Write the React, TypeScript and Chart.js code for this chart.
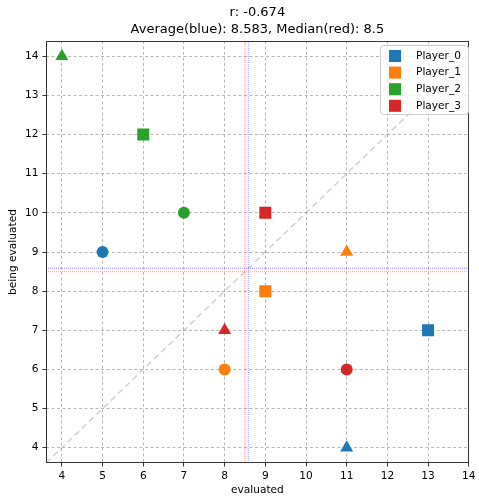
import React, { useEffect, useRef } from "react";
import { Chart, registerables } from "chart.js";

Chart.register(...registerables);

const PLAYERS = ["Player_0", "Player_1", "Player_2", "Player_3"];
const COLORS = ["#1f77b4", "#ff7f0e", "#2ca02c", "#d62728"];
const MARKERS = ["circle", "rect", "triangle"];
const MARKER_RADII = [6, 8.5, 7.5];
// evaluated (x) and being evaluated (y) for each player, in marker order
const EVALUATED = [
  [5, 13, 11],
  [8, 9, 11],
  [7, 6, 4],
  [11, 9, 8],
];
const BEING_EVALUATED = [
  [9, 7, 4],
  [6, 8, 9],
  [10, 12, 14],
  [6, 10, 7],
];
const AVERAGE = 8.583;
const MEDIAN = 8.5;
const R_VALUE = -0.674;
const TITLE_LINES = [
  `r: ${R_VALUE}`,
  `Average(blue): ${AVERAGE}, Median(red): ${MEDIAN}`,
];
const X_TICKS = [4, 5, 6, 7, 8, 9, 10, 11, 12, 13, 14];
const Y_TICKS = [4, 5, 6, 7, 8, 9, 10, 11, 12, 13, 14];
const X_MIN = 3.61;
const X_MAX = 14;
const Y_MIN = 3.61;
const Y_MAX = 14.39;

const FONT = "'DejaVu Sans', sans-serif";
const LABEL_SIZE = 10.6;

const framePlugin = {
  id: "frameAndLegend",
  afterDraw(chart: any) {
    const { ctx, chartArea } = chart;
    ctx.save();
    // title centred over the plot area
    ctx.font = `13px ${FONT}`;
    ctx.fillStyle = "#000";
    ctx.textAlign = "center";
    ctx.textBaseline = "middle";
    const cx = (chartArea.left + chartArea.right) / 2;
    TITLE_LINES.forEach((t, i) => ctx.fillText(t, cx, 13 + i * 16.5));

    ctx.strokeStyle = "#333";
    ctx.lineWidth = 1;
    ctx.setLineDash([]);
    ctx.strokeRect(
      Math.round(chartArea.left) + 0.5,
      Math.round(chartArea.top) + 0.5,
      Math.round(chartArea.right - chartArea.left) - 1,
      Math.round(chartArea.bottom - chartArea.top) - 1
    );
    // legend
    const bx = 380.5, by = 45.5, bw = 88, bh = 69, r = 3;
    ctx.beginPath();
    ctx.moveTo(bx + r, by);
    ctx.lineTo(bx + bw - r, by);
    ctx.arcTo(bx + bw, by, bx + bw, by + r, r);
    ctx.lineTo(bx + bw, by + bh - r);
    ctx.arcTo(bx + bw, by + bh, bx + bw - r, by + bh, r);
    ctx.lineTo(bx + r, by + bh);
    ctx.arcTo(bx, by + bh, bx, by + bh - r, r);
    ctx.lineTo(bx, by + r);
    ctx.arcTo(bx, by, bx + r, by, r);
    ctx.closePath();
    ctx.fillStyle = "rgba(255,255,255,0.8)";
    ctx.fill();
    ctx.strokeStyle = "#cccccc";
    ctx.stroke();
    ctx.font = `${LABEL_SIZE}px ${FONT}`;
    ctx.textBaseline = "middle";
    ctx.textAlign = "left";
    PLAYERS.forEach((p, i) => {
      const cy = 56 + i * 16.6;
      ctx.fillStyle = COLORS[i];
      ctx.fillRect(389, cy - 6, 12, 12);
      ctx.fillStyle = "#000";
      ctx.fillText(p, 416, cy);
    });
    ctx.restore();
  },
};

export default function App() {
  const ref = useRef<HTMLCanvasElement>(null);
  useEffect(() => {
    document.body.style.margin = "0";
    Chart.defaults.font.family = FONT;
    Chart.defaults.color = "#000";
    const datasets: any[] = PLAYERS.map((p, i) => ({
      label: p,
      data: EVALUATED[i].map((x, j) => ({ x, y: BEING_EVALUATED[i][j] })),
      backgroundColor: COLORS[i],
      borderColor: COLORS[i],
      borderWidth: 0,
      pointStyle: MARKERS,
      pointRadius: MARKER_RADII,
      pointHoverRadius: MARKER_RADII,
      order: 1,
    }));
    datasets.push({
      label: "diag",
      data: [
        { x: X_MIN, y: X_MIN },
        { x: Y_MAX, y: Y_MAX },
      ],
      showLine: true,
      borderColor: "rgba(150,150,150,0.45)",
      borderWidth: 1.5,
      borderDash: [6, 4],
      pointRadius: 0,
      order: 2,
    });
    const lines = [
      { v: AVERAGE, c: "rgba(60,60,255,0.4)" },
      { v: MEDIAN, c: "rgba(255,60,60,0.4)" },
    ];
    lines.forEach((l) => {
      datasets.push({
        label: "v",
        data: [
          { x: l.v, y: Y_MIN },
          { x: l.v, y: Y_MAX },
        ],
        showLine: true,
        borderColor: l.c,
        borderWidth: 1.5,
        borderDash: [1, 1],
        pointRadius: 0,
        order: 0,
      });
      datasets.push({
        label: "h",
        data: [
          { x: X_MIN, y: l.v },
          { x: X_MAX, y: l.v },
        ],
        showLine: true,
        borderColor: l.c,
        borderWidth: 1.5,
        borderDash: [1, 1],
        pointRadius: 0,
        order: 0,
      });
    });

    const gridCommon = {
      color: "rgba(160,160,160,0.75)",
      lineWidth: 1,
      tickLength: 3.5,
      tickColor: "#333",
      tickWidth: 1,
      tickBorderDash: [],
    };
    const borderCommon = { display: false, dash: [3, 2.5] };

    const chart = new Chart(ref.current!, {
      type: "scatter",
      data: { datasets },
      plugins: [framePlugin],
      options: {
        animation: false,
        responsive: false,
        devicePixelRatio: 1,
        layout: { padding: { left: 0, right: 8, top: 41, bottom: 0 } },
        plugins: {
          legend: { display: false },
          tooltip: { enabled: false },
          title: { display: false },
        },
        scales: {
          x: {
            type: "linear",
            min: X_MIN,
            max: X_MAX,
            z: 1,
            border: borderCommon as any,
            grid: gridCommon as any,
            afterBuildTicks: (s: any) => {
              s.ticks = X_TICKS.map((v) => ({ value: v }));
            },
            afterFit: (s: any) => {
              s.height = 34;
            },
            ticks: {
              font: { size: LABEL_SIZE, family: FONT },
              color: "#000",
              padding: 3.5,
              maxRotation: 0,
              autoSkip: false,
              callback: (v: any) => String(v),
            },
            title: {
              display: true,
              text: "evaluated",
              font: { size: LABEL_SIZE, family: FONT },
              color: "#000",
              padding: { top: 0, bottom: 0.5 },
            },
          },
          y: {
            type: "linear",
            min: Y_MIN,
            max: Y_MAX,
            z: 1,
            border: borderCommon as any,
            grid: gridCommon as any,
            afterBuildTicks: (s: any) => {
              s.ticks = Y_TICKS.map((v) => ({ value: v }));
            },
            afterFit: (s: any) => {
              s.width = 46;
            },
            ticks: {
              font: { size: LABEL_SIZE, family: FONT },
              color: "#000",
              padding: 4,
              autoSkip: false,
              callback: (v: any) => String(v),
            },
            title: {
              display: true,
              text: "being evaluated",
              font: { size: LABEL_SIZE, family: FONT },
              color: "#000",
              padding: { top: 6.5, bottom: 0 },
            },
          },
        },
      },
    });
    return () => chart.destroy();
  }, []);
  return (
    <div style={{ width: 479, height: 497 }}>
      <canvas ref={ref} width={479} height={497} />
    </div>
  );
}
